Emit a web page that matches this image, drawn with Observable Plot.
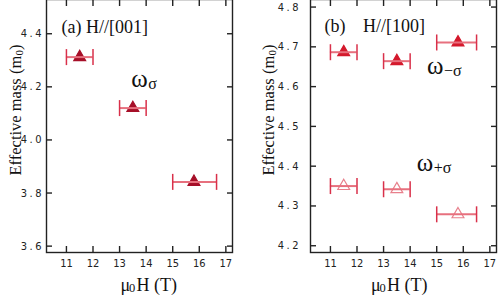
<!DOCTYPE html>
<html><head><meta charset="utf-8">
<script src="https://cdn.jsdelivr.net/npm/d3@7"></script>
<script src="https://cdn.jsdelivr.net/npm/@observablehq/plot@0.6"></script>
<style>
body{margin:0;background:#fff}
#wrap{position:relative;width:498px;height:297px;overflow:hidden;background:#fff}
#wrap svg{position:absolute;top:-1px;overflow:visible}
#wrap g[aria-label="y-axis tick label"] text{letter-spacing:2.5px}
</style></head><body><div id="wrap"></div>
<script>
// ---- data ----
const fieldTicks = [11, 12, 13, 14, 15, 16, 17];
const massTicksA = [3.6, 3.8, 4.0, 4.2, 4.4];
const massTicksB = [4.2, 4.3, 4.4, 4.5, 4.6, 4.7, 4.8];

const fieldA   = [11.5, 13.5, 15.8];
const fieldLoA = [11, 13, 15];
const fieldHiA = [12, 14, 16.65];
const massA    = [4.312, 4.12, 3.842];

const fieldB      = [11.5, 13.5, 15.8];
const fieldLoB    = [11, 13, 15];
const fieldHiB    = [12, 14, 16.5];
const massMinusB  = [4.6865, 4.664, 4.711];
const massPlusB   = [4.350, 4.342, 4.279];

const titleA = "(a) H//[001]";
const titleB = ["(b)", "H//[100]"];
const yTitleParts = ["Effective mass (m", "0", ")"];
const xTitleParts = ["\u03bc", "0", "H (T)"];
const labelA = [{x: 13.44, y: 4.199, sub: "\u03c3"}];
const labelsB = [{x: 14.63, y: 4.632, sub: "\u2212\u03c3"}, {x: 14.25, y: 4.389, sub: "+\u03c3"}];

// ---- helpers ----
const serif = "'Liberation Serif','Times New Roman',Times,serif";
const tickFont = "'Liberation Sans Narrow','Arial Narrow','DejaVu Sans Condensed','Liberation Sans',sans-serif";
const rows = (f, lo, hi, m) => f.map((v, i) => ({f: v, lo: lo[i], hi: hi[i], m: m[i]}));
const capSymbol = {draw(ctx, size) { const h = Math.sqrt(size / Math.PI); ctx.moveTo(0, -h); ctx.lineTo(0, h); }};
const axisColor = "#222";
const ink = "#111";

function seriesMarks(data, fill, stroke, barColor, capColor) {
  return [
    Plot.dot(data, {x: "f", y: "m", symbol: "triangle", r: 4.4, fill, stroke, strokeWidth: 1.2}),
    Plot.ruleY(data, {x1: "lo", x2: "hi", y: "m", stroke: barColor, strokeWidth: 2}),
    Plot.dot(data, {x: "lo", y: "m", symbol: capSymbol, r: 8, fill: "none", stroke: capColor, strokeWidth: 1.5}),
    Plot.dot(data, {x: "hi", y: "m", symbol: capSymbol, r: 8, fill: "none", stroke: capColor, strokeWidth: 1.5})
  ];
}

function yTitleMarks(dx) {
  const o = {frameAnchor: "left", text: d => d, rotate: -90, textAnchor: "start", lineAnchor: "bottom", fontFamily: serif, fill: ink};
  return [
    Plot.text([yTitleParts[0]], {...o, dx, dy: 49.5, fontSize: 16.5}),
    Plot.text([yTitleParts[1]], {...o, dx: dx + 2, dy: -70.5, fontSize: 11}),
    Plot.text([yTitleParts[2]], {...o, dx, dy: -76, fontSize: 16.5})
  ];
}

function xTitleMarks(dx) {
  const o = {frameAnchor: "bottom-left", text: d => d, textAnchor: "start", lineAnchor: "bottom", fontFamily: serif, fill: ink};
  return [
    Plot.text([xTitleParts[0]], {...o, dx, dy: 38, fontSize: 18}),
    Plot.text([xTitleParts[1]], {...o, dx: dx + 8.5, dy: 39.5, fontSize: 12.5}),
    Plot.text([xTitleParts[2]], {...o, dx: dx + 16, dy: 38, fontSize: 18})
  ];
}

function panel({left, marginLeft, marginRight, yDomain, yTicks, yTickPad, series, labels, titleMarks, yLabelDx, xLabelDx}) {
  const p = Plot.plot({
    width: 249, height: 298,
    marginLeft, marginRight, marginTop: 0, marginBottom: 45,
    style: {fontFamily: tickFont, fontSize: "11px", fontStretch: "condensed", background: "transparent", color: "#222"},
    x: {domain: [10.25, 17.25]},
    y: {domain: yDomain},
    marks: [
      ...series,
      ...labels.flatMap(l => [
        Plot.text([l], {x: "x", y: "y", text: () => "\u03c9", textAnchor: "start", lineAnchor: "bottom", fontFamily: serif, fontSize: 25, fill: ink}),
        Plot.text([l], {x: "x", y: "y", text: "sub", textAnchor: "start", lineAnchor: "bottom", dx: 17, dy: 2, fontFamily: serif, fontSize: 16, fill: ink})
      ]),
      Plot.frame({stroke: axisColor, strokeWidth: 1.4}),
      Plot.axisX(fieldTicks, {anchor: "bottom", tickSize: -6, fill: "none", stroke: axisColor, strokeWidth: 1.4, label: null}),
      Plot.axisX(fieldTicks, {anchor: "top", tickSize: -6, fill: "none", stroke: axisColor, strokeWidth: 1.4, label: null}),
      Plot.axisY(yTicks, {anchor: "left", tickSize: -6, fill: "none", stroke: axisColor, strokeWidth: 1.4, label: null}),
      Plot.axisY(yTicks, {anchor: "right", tickSize: -6, fill: "none", stroke: axisColor, strokeWidth: 1.4, label: null}),
      Plot.axisX(fieldTicks, {anchor: "bottom", tickSize: 0, tickPadding: 7, label: null, fill: "#222"}),
      Plot.axisY(yTicks, {anchor: "left", tickSize: 0, tickPadding: yTickPad, tickFormat: ".1f", label: null, fill: "#222"}),
      ...titleMarks,
      ...yTitleMarks(yLabelDx),
      ...xTitleMarks(xLabelDx)
    ]
  });
  p.style.left = left + "px";
  document.getElementById("wrap").appendChild(p);
}

panel({
  left: 0, marginLeft: 46, marginRight: 17,
  yDomain: [3.576, 4.529], yTicks: massTicksA, yTickPad: 2.5,
  series: seriesMarks(rows(fieldA, fieldLoA, fieldHiA, massA), "#a60f28", "#a60f28", "#e7707e", "#d9304a"),
  labels: labelA,
  titleMarks: [Plot.text([titleA], {frameAnchor: "top-left", text: d => d, textAnchor: "start", lineAnchor: "bottom", dx: 15, dy: 33, fontFamily: serif, fontSize: 18, fill: ink})],
  yLabelDx: -25.5, xLabelDx: 74
});

panel({
  left: 249, marginLeft: 61, marginRight: 2,
  yDomain: [4.183, 4.819], yTicks: massTicksB, yTickPad: 9.5,
  series: [
    ...seriesMarks(rows(fieldB, fieldLoB, fieldHiB, massMinusB), "#d4192c", "#d4192c", "#e7707e", "#d9304a"),
    ...seriesMarks(rows(fieldB, fieldLoB, fieldHiB, massPlusB), "white", "#e8808c", "#e7707e", "#d9304a")
  ],
  labels: labelsB,
  titleMarks: [
    Plot.text([titleB[0]], {frameAnchor: "top-left", text: d => d, textAnchor: "start", lineAnchor: "bottom", dx: 14, dy: 32, fontFamily: serif, fontSize: 18, fill: ink}),
    Plot.text([titleB[1]], {frameAnchor: "top-left", text: d => d, textAnchor: "start", lineAnchor: "bottom", dx: 52.5, dy: 32.5, fontFamily: serif, fontSize: 18, fill: ink})
  ],
  yLabelDx: -36.5, xLabelDx: 60.4
});
</script></body></html>
